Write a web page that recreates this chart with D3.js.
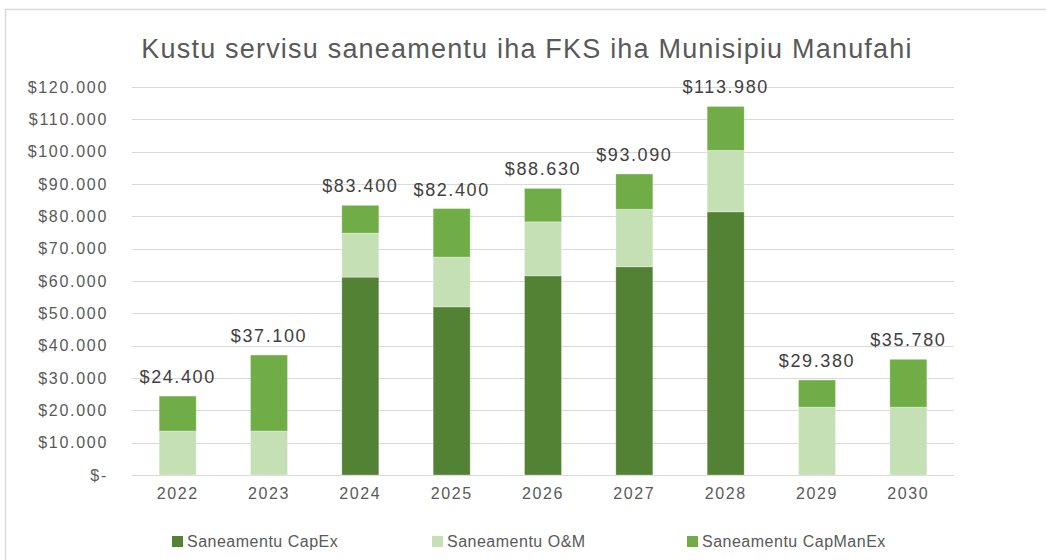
<!DOCTYPE html>
<html>
<head>
<meta charset="utf-8">
<script src="https://cdn.jsdelivr.net/npm/d3@7"></script>
<style>
  body { margin: 0; background: #fff; }
  svg { display: block; font-family: "Liberation Sans", Arial, sans-serif; }
</style>
</head>
<body>
<svg id="chart" width="1046" height="560"></svg>
<script>
// data
var years = ['2022', '2023', '2024', '2025', '2026', '2027', '2028', '2029', '2030']
var capex    = [0, 0, 61200, 52000, 61600, 64400, 81400, 0, 0]
var om       = [13600, 13600, 13600, 15400, 16700, 17800, 19000, 21000, 21000]
var capmanex = [10800, 23500, 8600, 15000, 10330, 10890, 13580, 8380, 14780]
var seriesNames = ['Saneamentu CapEx', 'Saneamentu O&M', 'Saneamentu CapManEx']
var yTicks = [0, 10000, 20000, 30000, 40000, 50000, 60000, 70000, 80000, 90000, 100000, 110000, 120000]
var title = 'Kustu servisu saneamentu iha FKS iha Munisipiu Manufahi'

var colors = ['#548235', '#c5e0b4', '#70ad47']
var textColor = '#595959'

var rows = years.map(function(y, i) {
  return { year: y, capex: capex[i], om: om[i], capmanex: capmanex[i] }
})
var keys = ['capex', 'om', 'capmanex']

var locale = d3.formatLocale({ decimal: ',', thousands: '.', grouping: [3], currency: ['$', ''] })
var fmt = locale.format('$,.0f')
function money(v) { return v === 0 ? '$-' : fmt(v) }

var svg = d3.select('#chart')

// frame
svg.append('rect')
  .attr('x', 5.5).attr('y', 9.5).attr('width', 1060).attr('height', 600)
  .attr('fill', '#fff').attr('stroke', '#d9d9d9').attr('stroke-width', 1.5)

var x = d3.scaleBand().domain(years).range([132, 954]).paddingInner(0.595).paddingOuter(0.2975)
var y = d3.scaleLinear().domain([0, 120000]).range([475, 87])

// gridlines
svg.append('g').selectAll('line').data(yTicks).join('line')
  .attr('x1', 132).attr('x2', 954)
  .attr('y1', function(d) { return Math.round(y(d)) + 0.5 })
  .attr('y2', function(d) { return Math.round(y(d)) + 0.5 })
  .attr('stroke', '#d9d9d9').attr('stroke-width', 1.2)

// y axis labels
var yAxis = d3.axisLeft(y).tickValues(yTicks).tickFormat(money).tickSize(0).tickPadding(0)
svg.append('g').attr('transform', 'translate(108,0)').call(yAxis)
  .call(function(g) { g.select('.domain').remove() })
  .selectAll('text')
  .attr('fill', textColor).attr('font-size', 16).attr('letter-spacing', 1.7)
  .attr('font-family', 'Liberation Sans, Arial, sans-serif')

// x axis labels
var xAxis = d3.axisBottom(x).tickSize(0).tickPadding(0)
svg.append('g').attr('transform', 'translate(0,488)').call(xAxis)
  .call(function(g) { g.select('.domain').remove() })
  .selectAll('text')
  .attr('fill', textColor).attr('font-size', 16).attr('letter-spacing', 1.6)
  .attr('font-family', 'Liberation Sans, Arial, sans-serif')

// stacked bars
var stack = d3.stack().keys(keys)(rows)
svg.append('g').selectAll('g').data(stack).join('g')
  .attr('fill', function(d, i) { return colors[i] })
  .selectAll('rect').data(function(d) { return d }).join('rect')
  .attr('x', function(d) { return x(d.data.year) })
  .attr('width', x.bandwidth())
  .attr('y', function(d) { return y(d[1]) })
  .attr('height', function(d) { return y(d[0]) - y(d[1]) })
  .attr('stroke', '#ffffff').attr('stroke-opacity', 0.35).attr('stroke-width', 0.8)

// total labels
svg.append('g').selectAll('text').data(rows).join('text')
  .attr('x', function(d) { return x(d.year) + x.bandwidth() / 2 })
  .attr('y', function(d) { return y(d.capex + d.om + d.capmanex) - 13 })
  .attr('text-anchor', 'middle')
  .attr('fill', '#404040').attr('font-size', 18).attr('letter-spacing', 1.6)
  .text(function(d) { return money(d.capex + d.om + d.capmanex) })

// title
svg.append('text')
  .attr('x', 527).attr('y', 58).attr('text-anchor', 'middle')
  .attr('fill', textColor).attr('font-size', 27).attr('letter-spacing', 1.2)
  .text(title)

// legend
var legendX = [172, 432, 687]
var legend = svg.append('g').selectAll('g').data(seriesNames).join('g')
  .attr('transform', function(d, i) { return 'translate(' + legendX[i] + ',536)' })
legend.append('rect').attr('width', 11).attr('height', 11)
  .attr('fill', function(d, i) { return colors[i] })
legend.append('text').attr('x', 15).attr('y', 11)
  .attr('fill', textColor).attr('font-size', 16).attr('letter-spacing', 0.5)
  .text(function(d) { return d })
</script>
</body>
</html>
